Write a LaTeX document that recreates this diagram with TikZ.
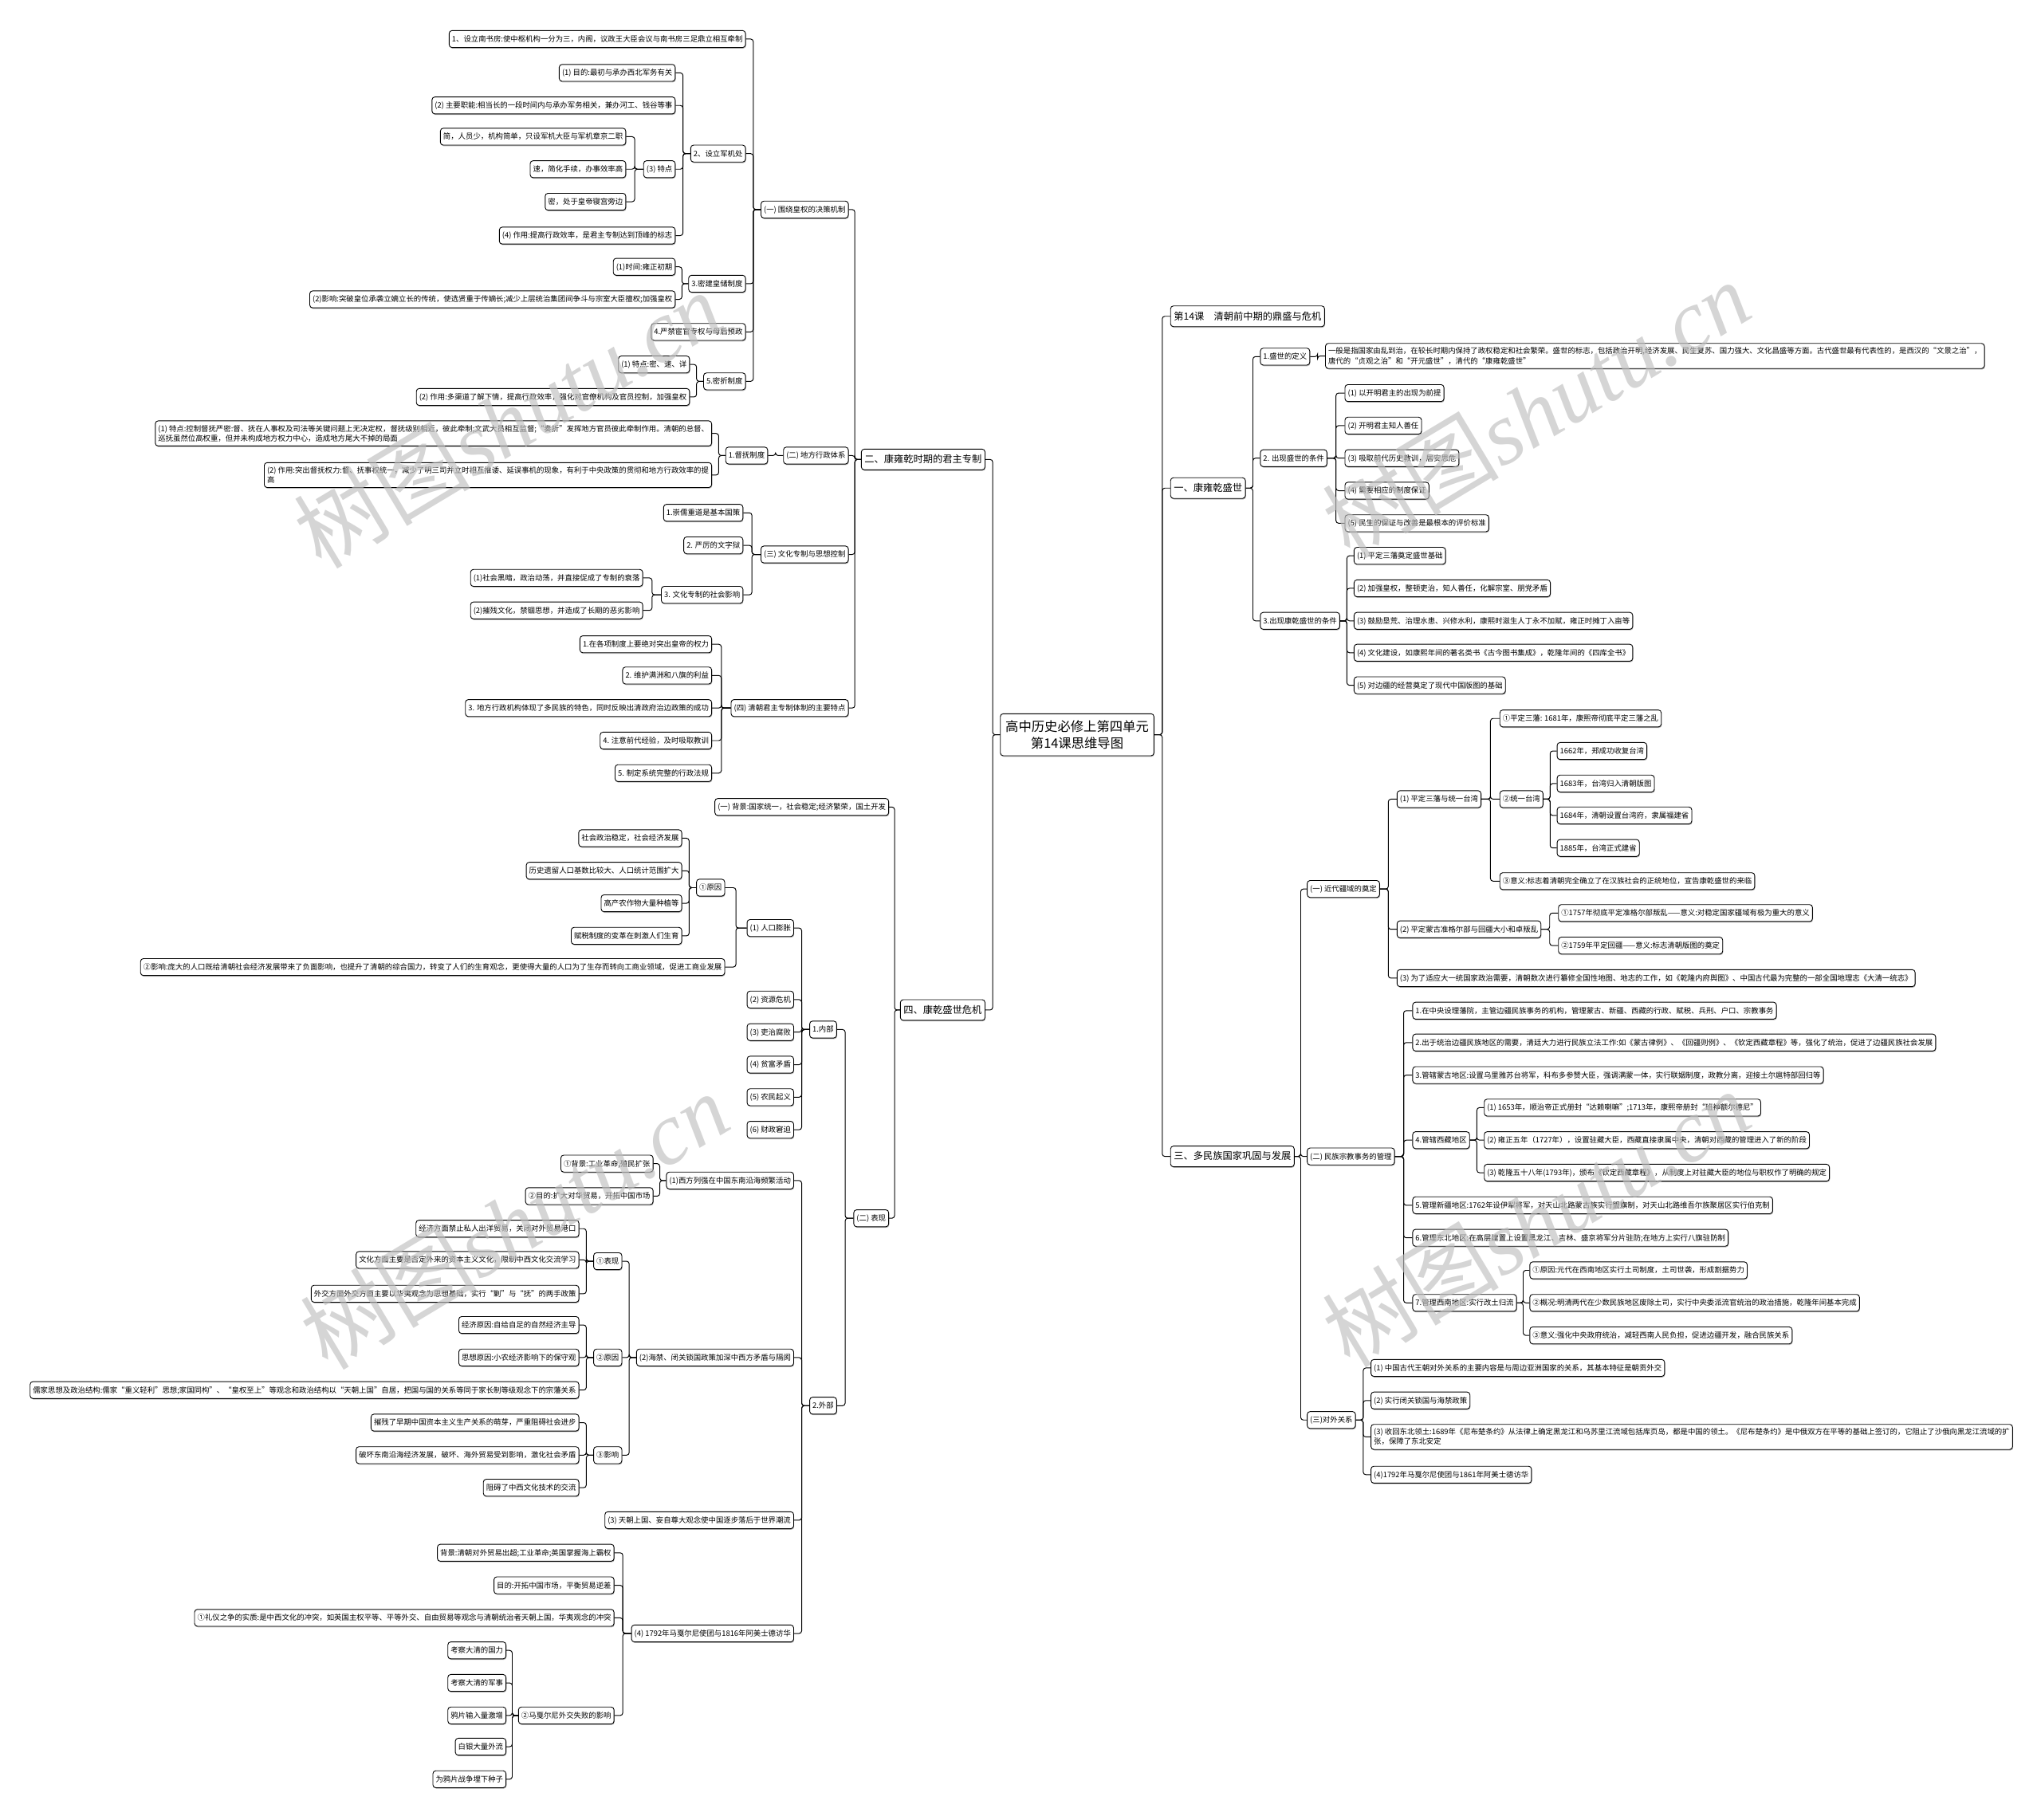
\documentclass[tikz,border=0pt]{standalone}
\usepackage{fontspec}
\setmainfont{Noto Sans CJK SC}
\newfontfamily\wmlatin{Liberation Serif}
\usetikzlibrary{calc,shadows}
\newcommand{\lnk}[2]{\draw[conn] let \p1=(#1.west), \p2=(#2.east) in (\p1) -- ({0.5*\x1+0.5*\x2},\y1) |- (\p2);}
\newcommand{\rnk}[2]{\draw[conn] let \p1=(#1.east), \p2=(#2.west) in (\p1) -- ({0.5*\x1+0.5*\x2},\y1) |- (\p2);}
\begin{document}
\begin{tikzpicture}[x=1pt,y=-1pt,
 bx/.style={draw=black, line width=0.55pt, rounded corners=2.2pt, fill=white, inner xsep=2.2pt, inner ysep=3.4pt, font=\fontsize{5.75}{7.4}\selectfont, drop shadow={shadow xshift=0.4pt,shadow yshift=-0.8pt,fill=black!55}},
 sl/.style={bx, text height=5.2pt, text depth=1pt},
 ml/.style={bx, align=left, inner ysep=3.2pt},
 lone/.style={bx, font=\fontsize{7.5}{9}\selectfont, text height=6.6pt, text depth=1.3pt, inner ysep=4pt, inner xsep=2.5pt},
 conn/.style={draw=black, line width=0.6pt, rounded corners=2pt},
 wm/.style={text=black!25, opacity=0.65, rotate=31, font=\fontsize{68}{68}\selectfont}
]
\useasboundingbox (0,0) rectangle (1568,1398);
\fill[white] (0,0) rectangle (1568,1398);

% root
\node[bx, font=\fontsize{10}{13}\selectfont, align=center, inner ysep=5pt, inner xsep=4pt] (root) at (827.5,564.5) {高中历史必修上第四单元\\第14课思维导图};

% ===== LEFT: 二 =====
\node[lone, anchor=east] (A) at (757,353) {二、康雍乾时期的君主专制};
\node[sl, anchor=east] (A1) at (652,161) {(一) 围绕皇权的决策机制};
\node[sl, anchor=east] (A1a) at (573,30) {1、设立南书房:使中枢机构一分为三，内阁，议政王大臣会议与南书房三足鼎立相互牵制};
\node[sl, anchor=east] (A1b) at (573,118) {2、设立军机处};
\node[sl, anchor=east] (A1b1) at (519,56) {(1) 目的:最初与承办西北军务有关};
\node[sl, anchor=east] (A1b2) at (519,81) {(2) 主要职能:相当长的一段时间内与承办军务相关，兼办河工、钱谷等事};
\node[sl, anchor=east] (A1b3) at (519,130) {(3) 特点};
\node[sl, anchor=east] (A1b3a) at (481,105) {简，人员少，机构简单，只设军机大臣与军机章京二职};
\node[sl, anchor=east] (A1b3b) at (481,130) {速，简化手续，办事效率高};
\node[sl, anchor=east] (A1b3c) at (481,155) {密，处于皇帝寝宫旁边};
\node[sl, anchor=east] (A1b4) at (519,181) {(4) 作用:提高行政效率，是君主专制达到顶峰的标志};
\node[sl, anchor=east] (A1c) at (573,218) {3.密建皇储制度};
\node[sl, anchor=east] (A1c1) at (519,205) {(1)时间:雍正初期};
\node[sl, anchor=east] (A1c2) at (519,230) {(2)影响:突破皇位承袭立嫡立长的传统，使选贤重于传嫡长;减少上层统治集团间争斗与宗室大臣擅权;加强皇权};
\node[sl, anchor=east] (A1d) at (573,255) {4.严禁宦官专权与母后预政};
\node[sl, anchor=east] (A1e) at (573,293) {5.密折制度};
\node[sl, anchor=east] (A1e1) at (530,280) {(1) 特点:密、速、详};
\node[sl, anchor=east] (A1e2) at (530,305) {(2) 作用:多渠道了解下情，提高行政效率，强化对官僚机构及官员控制，加强皇权};
\node[sl, anchor=east] (A2) at (652,350) {(二) 地方行政体系};
\node[sl, anchor=east] (A2a) at (590,350) {1.督抚制度};
\node[ml, anchor=east] (A2a1) at (547,333) {(1) 特点:控制督抚严密:督、抚在人事权及司法等关键问题上无决定权，督抚级别相近，彼此牵制;文武大员相互监督;“奏折”发挥地方官员彼此牵制作用。清朝的总督、\\巡抚虽然位高权重，但并未构成地方权力中心，造成地方尾大不掉的局面};
\node[ml, anchor=east] (A2a2) at (547,365) {(2) 作用:突出督抚权力:督、抚事权统一，减少了明三司并立时相互推诿、延误事机的现象，有利于中央政策的贯彻和地方行政效率的提\\高};
\node[sl, anchor=east] (A3) at (652,426) {(三) 文化专制与思想控制};
\node[sl, anchor=east] (A3a) at (571,394) {1.崇儒重道是基本国策};
\node[sl, anchor=east] (A3b) at (571,419) {2. 严厉的文字狱};
\node[sl, anchor=east] (A3c) at (571,457) {3. 文化专制的社会影响};
\node[sl, anchor=east] (A3c1) at (494,444) {(1)社会黑暗，政治动荡，并直接促成了专制的衰落};
\node[sl, anchor=east] (A3c2) at (494,469) {(2)摧残文化，禁锢思想，并造成了长期的恶劣影响};
\node[sl, anchor=east] (A4) at (652,544) {(四) 清朝君主专制体制的主要特点};
\node[sl, anchor=east] (A4a) at (547,495) {1.在各项制度上要绝对突出皇帝的权力};
\node[sl, anchor=east] (A4b) at (547,519) {2. 维护满洲和八旗的利益};
\node[sl, anchor=east] (A4c) at (547,544) {3. 地方行政机构体现了多民族的特色，同时反映出清政府治边政策的成功};
\node[sl, anchor=east] (A4d) at (547,569) {4. 注意前代经验，及时吸取教训};
\node[sl, anchor=east] (A4e) at (547,594) {5. 制定系统完整的行政法规};

% ===== LEFT: 四 =====
\node[lone, anchor=east] (B) at (757,776) {四、康乾盛世危机};
\node[sl, anchor=east] (B1) at (683,620) {(一) 背景:国家统一，社会稳定;经济繁荣，国土开发};
\node[sl, anchor=east] (B2) at (683,936) {(二) 表现};
\node[sl, anchor=east] (B2a) at (643,791) {1.内部};
\node[sl, anchor=east] (B2a1) at (610,713) {(1) 人口膨胀};
\node[sl, anchor=east] (B2a1a) at (557,682) {①原因};
\node[sl, anchor=east] (P1) at (524,644) {社会政治稳定，社会经济发展};
\node[sl, anchor=east] (P2) at (524,669) {历史遗留人口基数比较大、人口统计范围扩大};
\node[sl, anchor=east] (P3) at (524,694) {高产农作物大量种植等};
\node[sl, anchor=east] (P4) at (524,719) {赋税制度的变革在刺激人们生育};
\node[sl, anchor=east] (B2a1b) at (557,743) {②影响:庞大的人口既给清朝社会经济发展带来了负面影响，也提升了清朝的综合国力，转变了人们的生育观念，更使得大量的人口为了生存而转向工商业领域，促进工商业发展};
\node[sl, anchor=east] (B2a2) at (610,768) {(2) 资源危机};
\node[sl, anchor=east] (B2a3) at (610,793) {(3) 吏治腐败};
\node[sl, anchor=east] (B2a4) at (610,818) {(4) 贫富矛盾};
\node[sl, anchor=east] (B2a5) at (610,843) {(5) 农民起义};
\node[sl, anchor=east] (B2a6) at (610,868) {(6) 财政窘迫};
\node[sl, anchor=east] (B2b) at (643,1080) {2.外部};
\node[sl, anchor=east] (B2b1) at (610,907) {(1)西方列强在中国东南沿海频繁活动};
\node[sl, anchor=east] (B2b1a) at (502,894) {①背景:工业革命,殖民扩张};
\node[sl, anchor=east] (B2b1b) at (502,919) {②目的:扩大对华贸易，开拓中国市场};
\node[sl, anchor=east] (B2b2) at (610,1043) {(2)海禁、闭关锁国政策加深中西方矛盾与隔阂};
\node[sl, anchor=east] (E1) at (478,969) {①表现};
\node[sl, anchor=east] (E1a) at (445,944) {经济方面禁止私人出洋贸易，关闭对外贸易港口};
\node[sl, anchor=east] (E1b) at (445,968) {文化方面主要是否定外来的资本主义文化，限制中西文化交流学习};
\node[sl, anchor=east] (E1c) at (445,994) {外交方面外交方面主要以华夷观念为思想基础，实行“剿”与“抚”的两手政策};
\node[sl, anchor=east] (E2) at (478,1043) {②原因};
\node[sl, anchor=east] (E2a) at (445,1018) {经济原因:自给自足的自然经济主导};
\node[sl, anchor=east] (E2b) at (445,1043) {思想原因:小农经济影响下的保守观};
\node[sl, anchor=east] (E2c) at (445,1068) {儒家思想及政治结构:儒家“重义轻利”思想;家国同构”、“皇权至上”等观念和政治结构以“天朝上国”自居，把国与国的关系等同于家长制等级观念下的宗藩关系};
\node[sl, anchor=east] (E3) at (478,1118) {③影响};
\node[sl, anchor=east] (E3a) at (445,1093) {摧残了早期中国资本主义生产关系的萌芽，严重阻碍社会进步};
\node[sl, anchor=east] (E3b) at (445,1118) {破坏东南沿海经济发展，破坏、海外贸易受到影响，激化社会矛盾};
\node[sl, anchor=east] (E3c) at (445,1143) {阻碍了中西文化技术的交流};
\node[sl, anchor=east] (B2b3) at (610,1168) {(3) 天朝上国、妄自尊大观念使中国逐步落后于世界潮流};
\node[sl, anchor=east] (B2b4) at (610,1255) {(4) 1792年马戛尔尼使团与1816年阿美士德访华};
\node[sl, anchor=east] (F1) at (472,1193) {背景:清朝对外贸易出超;工业革命;英国掌握海上霸权};
\node[sl, anchor=east] (F2) at (472,1218) {目的:开拓中国市场，平衡贸易逆差};
\node[sl, anchor=east] (F3) at (472,1243) {①礼仪之争的实质:是中西文化的冲突，如英国主权平等、平等外交、自由贸易等观念与清朝统治者天朝上国，华夷观念的冲突};
\node[sl, anchor=east] (F4) at (472,1318) {②马戛尔尼外交失败的影响};
\node[sl, anchor=east] (F4a) at (389,1268) {考察大清的国力};
\node[sl, anchor=east] (F4b) at (389,1293) {考察大清的军事};
\node[sl, anchor=east] (F4c) at (389,1318) {鸦片输入量激增};
\node[sl, anchor=east] (F4d) at (389,1342) {白银大量外流};
\node[sl, anchor=east] (F4e) at (389,1367) {为鸦片战争埋下种子};

% ===== RIGHT =====
\node[lone, anchor=west] (C0) at (899,243) {第14课　清朝前中期的鼎盛与危机};
\node[lone, anchor=west] (C) at (899,375) {一、康雍乾盛世};
\node[sl, anchor=west] (C1) at (968,274) {1.盛世的定义};
\node[ml, anchor=west] (C1a) at (1018,273.5) {一般是指国家由乱到治，在较长时期内保持了政权稳定和社会繁荣。盛世的标志，包括政治开明,经济发展、民生复苏、国力强大、文化昌盛等方面。古代盛世最有代表性的，是西汉的“文景之治”，\\唐代的“贞观之治”和“开元盛世”，清代的“康雍乾盛世”};
\node[sl, anchor=west] (C2) at (968,352) {2. 出现盛世的条件};
\node[sl, anchor=west] (C2a) at (1033,302) {(1) 以开明君主的出现为前提};
\node[sl, anchor=west] (C2b) at (1033,327) {(2) 开明君主知人善任};
\node[sl, anchor=west] (C2c) at (1033,352) {(3) 吸取前代历史教训，居安思危};
\node[sl, anchor=west] (C2d) at (1033,377) {(4) 需要相应的制度保证};
\node[sl, anchor=west] (C2e) at (1033,402) {(5) 民生的保证与改善是最根本的评价标准};
\node[sl, anchor=west] (C3) at (968,477) {3.出现康乾盛世的条件};
\node[sl, anchor=west] (C3a) at (1040,427) {(1) 平定三藩奠定盛世基础};
\node[sl, anchor=west] (C3b) at (1040,452) {(2) 加强皇权，整顿吏治，知人善任，化解宗室、朋党矛盾};
\node[sl, anchor=west] (C3c) at (1040,477) {(3) 鼓励垦荒、治理水患、兴修水利，康熙时滋生人丁永不加赋，雍正时摊丁入亩等};
\node[sl, anchor=west] (C3d) at (1040,501.5) {(4) 文化建设，如康熙年间的著名类书《古今图书集成》，乾隆年间的《四库全书》};
\node[sl, anchor=west] (C3e) at (1040,526.5) {(5) 对边疆的经营奠定了现代中国版图的基础};

\node[lone, anchor=west] (D) at (899,888.5) {三、多民族国家巩固与发展};
\node[sl, anchor=west] (D1) at (1004,683) {(一) 近代疆域的奠定};
\node[sl, anchor=west] (D1a) at (1073,614) {(1) 平定三藩与统一台湾};
\node[sl, anchor=west] (D1a1) at (1152,552) {①平定三藩: 1681年，康熙帝彻底平定三藩之乱};
\node[sl, anchor=west] (D1a2) at (1152,614) {②统一台湾};
\node[sl, anchor=west] (T1) at (1196,577) {1662年，郑成功收复台湾};
\node[sl, anchor=west] (T2) at (1196,602) {1683年，台湾归入清朝版图};
\node[sl, anchor=west] (T3) at (1196,626.5) {1684年，清朝设置台湾府，隶属福建省};
\node[sl, anchor=west] (T4) at (1196,651.5) {1885年，台湾正式建省};
\node[sl, anchor=west] (D1a3) at (1152,677) {③意义:标志着清朝完全确立了在汉族社会的正统地位，宣告康乾盛世的来临};
\node[sl, anchor=west] (D1b) at (1073,714) {(2) 平定蒙古准格尔部与回疆大小和卓叛乱};
\node[sl, anchor=west] (D1b1) at (1197,701.5) {①1757年彻底平定准格尔部叛乱——意义:对稳定国家疆域有极为重大的意义};
\node[sl, anchor=west] (D1b2) at (1197,726.5) {②1759年平定回疆——意义:标志清朝版图的奠定};
\node[sl, anchor=west] (D1c) at (1073,751.5) {(3) 为了适应大一统国家政治需要，清朝数次进行纂修全国性地图、地志的工作，如《乾隆内府舆图》、中国古代最为完整的一部全国地理志《大清一统志》};
\node[sl, anchor=west] (D2) at (1004,888.5) {(二) 民族宗教事务的管理};
\node[sl, anchor=west] (D2a) at (1085,776.5) {1.在中央设理藩院，主管边疆民族事务的机构，管理蒙古、新疆、西藏的行政、赋税、兵刑、户口、宗教事务};
\node[sl, anchor=west] (D2b) at (1085,801) {2.出于统治边疆民族地区的需要，清廷大力进行民族立法工作:如《蒙古律例》、《回疆则例》、《钦定西藏章程》等，强化了统治，促进了边疆民族社会发展};
\node[sl, anchor=west] (D2c) at (1085,826) {3.管辖蒙古地区:设置乌里雅苏台将军，科布多参赞大臣，强调满蒙一体，实行联姻制度，政教分离，迎接土尔扈特部回归等};
\node[sl, anchor=west] (D2d) at (1085,876) {4.管辖西藏地区};
\node[sl, anchor=west] (D2d1) at (1140,851) {(1) 1653年，顺治帝正式册封“达赖喇嘛”;1713年，康熙帝册封“班禅额尔德尼”};
\node[sl, anchor=west] (D2d2) at (1140,876) {(2) 雍正五年（1727年），设置驻藏大臣，西藏直接隶属中央，清朝对西藏的管理进入了新的阶段};
\node[sl, anchor=west] (D2d3) at (1140,901) {(3) 乾隆五十八年(1793年)，颁布《钦定西藏章程》，从制度上对驻藏大臣的地位与职权作了明确的规定};
\node[sl, anchor=west] (D2e) at (1085,926) {5.管理新疆地区:1762年设伊犁将军，对天山北路蒙古族实行盟旗制，对天山北路维吾尔族聚居区实行伯克制};
\node[sl, anchor=west] (D2f) at (1085,951) {6.管理东北地区:在高层建置上设置黑龙江、吉林、盛京将军分片驻防;在地方上实行八旗驻防制};
\node[sl, anchor=west] (D2g) at (1085,1001) {7.管理西南地区:实行改土归流};
\node[sl, anchor=west] (D2g1) at (1175,976) {①原因:元代在西南地区实行土司制度，土司世袭，形成割据势力};
\node[sl, anchor=west] (D2g2) at (1175,1001) {②概况:明清两代在少数民族地区废除土司，实行中央委派流官统治的政治措施，乾隆年间基本完成};
\node[sl, anchor=west] (D2g3) at (1175,1026) {③意义:强化中央政府统治，减轻西南人民负担，促进边疆开发，融合民族关系};
\node[sl, anchor=west] (D3) at (1004,1091) {(三)对外关系};
\node[sl, anchor=west] (D3a) at (1053,1051) {(1) 中国古代王朝对外关系的主要内容是与周边亚洲国家的关系，其基本特征是朝贡外交};
\node[sl, anchor=west] (D3b) at (1053,1076) {(2) 实行闭关锁国与海禁政策};
\node[ml, anchor=west] (D3c) at (1053,1104) {(3) 收回东北领土:1689年《尼布楚条约》从法律上确定黑龙江和乌苏里江流域包括库页岛，都是中国的领土。《尼布楚条约》是中俄双方在平等的基础上签订的，它阻止了沙俄向黑龙江流域的扩\\张，保障了东北安定};
\node[sl, anchor=west] (D3d) at (1053,1133) {(4)1792年马戛尔尼使团与1861年阿美士德访华};

% ===== connectors =====
\foreach \c in {A,B} {\lnk{root}{\c}}
\foreach \c in {A1,A2,A3,A4} {\lnk{A}{\c}}
\foreach \c in {A1a,A1b,A1c,A1d,A1e} {\lnk{A1}{\c}}
\foreach \c in {A1b1,A1b2,A1b3,A1b4} {\lnk{A1b}{\c}}
\foreach \c in {A1b3a,A1b3b,A1b3c} {\lnk{A1b3}{\c}}
\foreach \c in {A1c1,A1c2} {\lnk{A1c}{\c}}
\foreach \c in {A1e1,A1e2} {\lnk{A1e}{\c}}
\lnk{A2}{A2a}
\foreach \c in {A2a1,A2a2} {\lnk{A2a}{\c}}
\foreach \c in {A3a,A3b,A3c} {\lnk{A3}{\c}}
\foreach \c in {A3c1,A3c2} {\lnk{A3c}{\c}}
\foreach \c in {A4a,A4b,A4c,A4d,A4e} {\lnk{A4}{\c}}
\foreach \c in {B1,B2} {\lnk{B}{\c}}
\foreach \c in {B2a,B2b} {\lnk{B2}{\c}}
\foreach \c in {B2a1,B2a2,B2a3,B2a4,B2a5,B2a6} {\lnk{B2a}{\c}}
\foreach \c in {B2a1a,B2a1b} {\lnk{B2a1}{\c}}
\foreach \c in {P1,P2,P3,P4} {\lnk{B2a1a}{\c}}
\foreach \c in {B2b1,B2b2,B2b3,B2b4} {\lnk{B2b}{\c}}
\foreach \c in {B2b1a,B2b1b} {\lnk{B2b1}{\c}}
\foreach \c in {E1,E2,E3} {\lnk{B2b2}{\c}}
\foreach \c in {E1a,E1b,E1c} {\lnk{E1}{\c}}
\foreach \c in {E2a,E2b,E2c} {\lnk{E2}{\c}}
\foreach \c in {E3a,E3b,E3c} {\lnk{E3}{\c}}
\foreach \c in {F1,F2,F3,F4} {\lnk{B2b4}{\c}}
\foreach \c in {F4a,F4b,F4c,F4d,F4e} {\lnk{F4}{\c}}

\foreach \c in {C0,C,D} {\rnk{root}{\c}}
\foreach \c in {C1,C2,C3} {\rnk{C}{\c}}
\rnk{C1}{C1a}
\foreach \c in {C2a,C2b,C2c,C2d,C2e} {\rnk{C2}{\c}}
\foreach \c in {C3a,C3b,C3c,C3d,C3e} {\rnk{C3}{\c}}
\foreach \c in {D1,D2,D3} {\rnk{D}{\c}}
\foreach \c in {D1a,D1b,D1c} {\rnk{D1}{\c}}
\foreach \c in {D1a1,D1a2,D1a3} {\rnk{D1a}{\c}}
\foreach \c in {T1,T2,T3,T4} {\rnk{D1a2}{\c}}
\foreach \c in {D1b1,D1b2} {\rnk{D1b}{\c}}
\foreach \c in {D2a,D2b,D2c,D2d,D2e,D2f,D2g} {\rnk{D2}{\c}}
\foreach \c in {D2d1,D2d2,D2d3} {\rnk{D2d}{\c}}
\foreach \c in {D2g1,D2g2,D2g3} {\rnk{D2g}{\c}}
\foreach \c in {D3a,D3b,D3c,D3d} {\rnk{D3}{\c}}

% ===== watermarks =====
\node[wm] (wm1) at (390,322) {树图{\wmlatin\itshape shutu.cn}};
\node[wm] (wm2) at (1180,314) {树图{\wmlatin\itshape shutu.cn}};
\node[wm] (wm3) at (395,938) {树图{\wmlatin\itshape shutu.cn}};
\node[wm] (wm4) at (1180,936) {树图{\wmlatin\itshape shutu.cn}};
\end{tikzpicture}
\end{document}
